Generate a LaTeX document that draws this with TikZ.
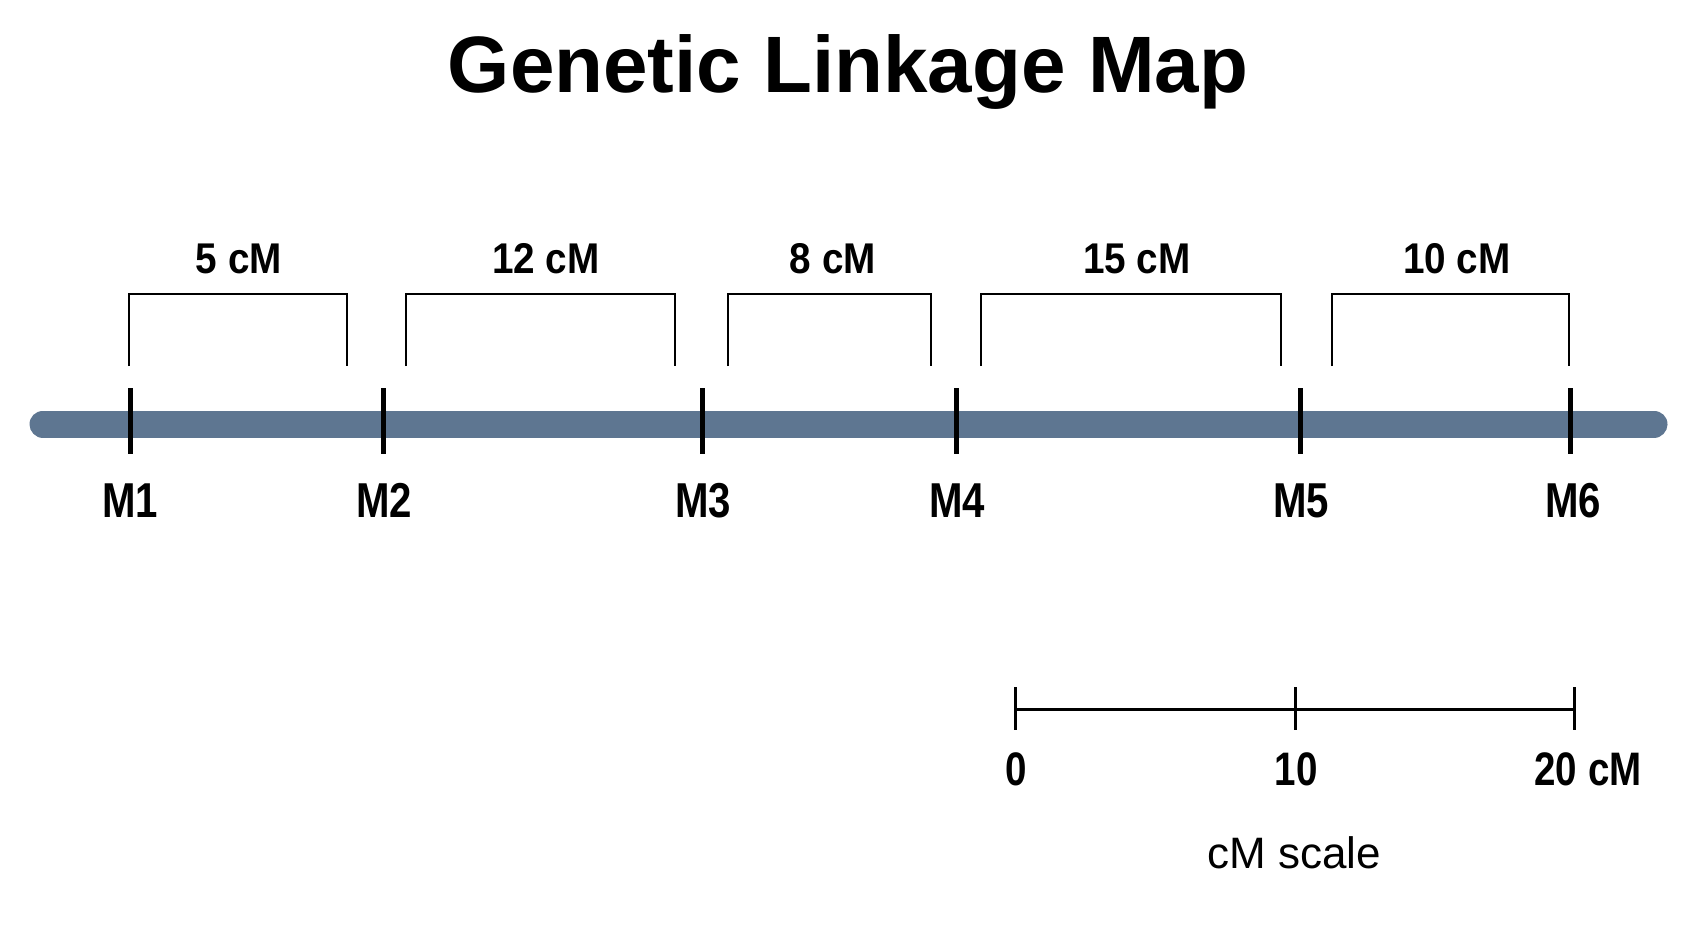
\documentclass[tikz,border=0pt]{standalone}
\usepackage{fontspec}
\setmainfont{Liberation Sans}
\newfontfamily\narrowfont[FakeStretch=0.82]{Liberation Sans}
\newfontfamily\distfont[FakeStretch=0.9]{Liberation Sans}
\usepackage{tikz}
\usetikzlibrary{calc}
\definecolor{barblue}{HTML}{5E7691}
\tikzset{
  marker/.style={font=\narrowfont\bfseries\fontsize{49}{49}\selectfont, anchor=base, inner sep=0pt},
  dist/.style={font=\distfont\bfseries\fontsize{43}{43}\selectfont, anchor=base, inner sep=0pt},
  tickmark/.style={line width=5pt},
  bracket/.style={line width=2.6pt}
}
\begin{document}
\begin{tikzpicture}[x=1pt, y=-1pt]
			\useasboundingbox[fill=white] (0, 0) rectangle (1693, 929);
			\node[font=\bfseries\fontsize{80}{80}\selectfont, anchor=base, inner sep=0pt] (title) at (848, 92) {Genetic Linkage Map};
			% chromosome
			\coordinate (left) at (43, 424);
			\coordinate (right) at (1654, 424);
			\draw[barblue, line width=27pt, line cap=round] (left) -- (right);
			\coordinate (t1) at (130, 421);
			\coordinate (t2) at (383, 421);
			\coordinate (t3) at (702, 421);
			\coordinate (t4) at (956, 421);
			\coordinate (t5) at (1300, 421);
			\coordinate (t6) at (1570, 421);
			\draw[tickmark] ($(t1) - (0, 33)$) -- ($(t1) + (0, 33)$);
			\draw[tickmark] ($(t2) - (0, 33)$) -- ($(t2) + (0, 33)$);
			\draw[tickmark] ($(t3) - (0, 33)$) -- ($(t3) + (0, 33)$);
			\draw[tickmark] ($(t4) - (0, 33)$) -- ($(t4) + (0, 33)$);
			\draw[tickmark] ($(t5) - (0, 33)$) -- ($(t5) + (0, 33)$);
			\draw[tickmark] ($(t6) - (0, 33)$) -- ($(t6) + (0, 33)$);
			\node[marker] (m1) at (130, 517) {M1};
			\node[marker] (m2) at (384, 517) {M2};
			\node[marker] (m3) at (703, 517) {M3};
			\node[marker] (m4) at (957, 517) {M4};
			\node[marker] (m5) at (1301, 517) {M5};
			\node[marker] (m6) at (1573, 517) {M6};
			% distances
			\draw[bracket] (129, 366) |- (347, 294) -- (347, 366);
			\draw[bracket] (406, 366) |- (675, 294) -- (675, 366);
			\draw[bracket] (728, 366) |- (931, 294) -- (931, 366);
			\draw[bracket] (981, 366) |- (1281, 294) -- (1281, 366);
			\draw[bracket] (1332, 366) |- (1569, 294) -- (1569, 366);
			\node[dist] (d1) at (239, 273) {5 cM};
			\node[dist] (d2) at (546, 273) {12 cM};
			\node[dist] (d3) at (833, 273) {8 cM};
			\node[dist] (d4) at (1137, 273) {15 cM};
			\node[dist] (d5) at (1457, 273) {10 cM};
			% scale bar
			\coordinate (s0) at (1015, 709);
			\coordinate (s10) at (1295, 709);
			\coordinate (s20) at (1574, 709);
			\draw[line width=3pt] (s0) -- (s20);
			\draw[line width=3pt] ($(s0) - (0, 22)$) -- ($(s0) + (0, 21)$);
			\draw[line width=3pt] ($(s10) - (0, 22)$) -- ($(s10) + (0, 21)$);
			\draw[line width=3pt] ($(s20) - (0, 22)$) -- ($(s20) + (0, 21)$);
			\node[dist, font=\narrowfont\bfseries\fontsize{47}{47}\selectfont] (l0) at (1016, 785) {0};
			\node[dist, font=\narrowfont\bfseries\fontsize{47}{47}\selectfont] (l10) at (1296, 785) {10};
			\node[dist, font=\narrowfont\bfseries\fontsize{47}{47}\selectfont] (l20) at (1588, 785) {20 cM};
			\node[font=\fontsize{44}{44}\selectfont, anchor=base, inner sep=0pt] (unit) at (1294, 868) {cM scale};
		\end{tikzpicture}
\end{document}
